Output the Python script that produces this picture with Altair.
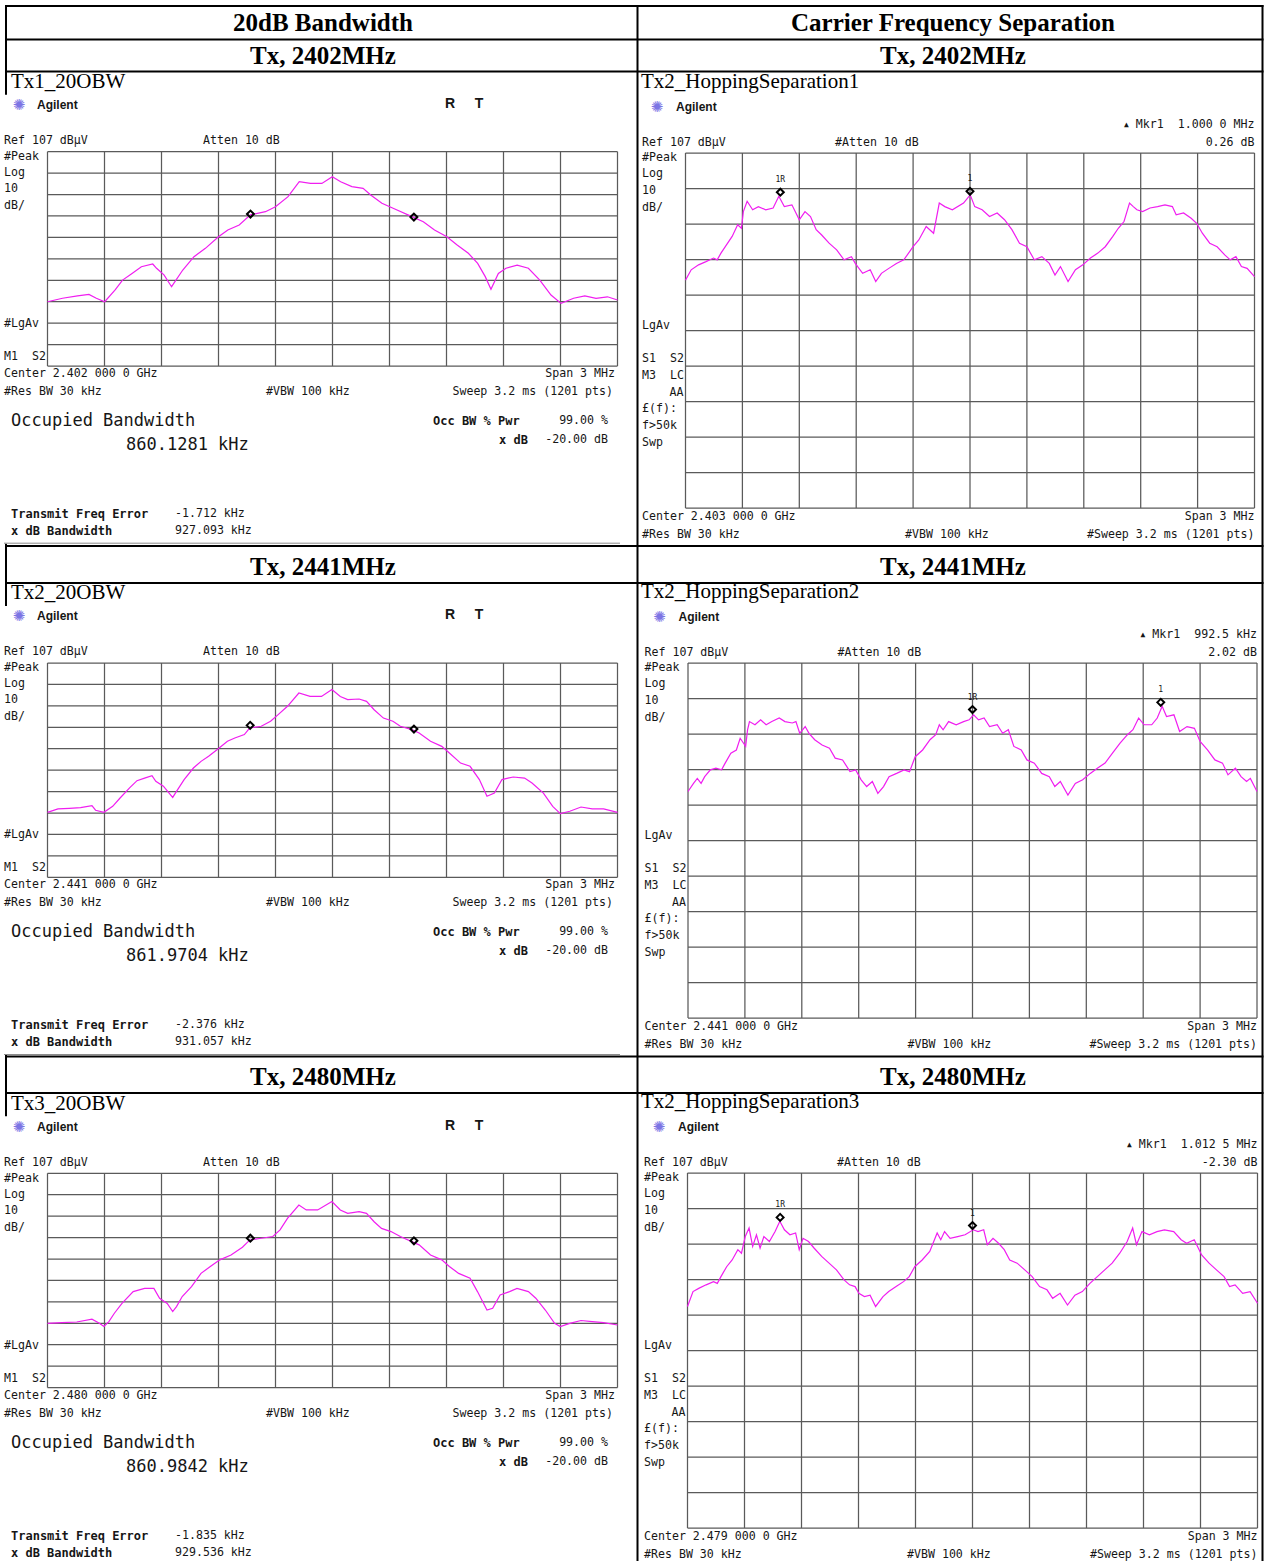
import altair as alt
import pandas as pd

# ---------------------------------------------------------------------------
# Spectrum traces: frequency offset from the centre frequency (MHz) and level (dBuV)
# ---------------------------------------------------------------------------

# 20 dB bandwidth, Tx 2402 MHz
OBW1_FREQ = [-1.5, -1.421, -1.342, -1.282, -1.243, -1.199, -1.144, -1.105, -1.055, -1.006,
             -0.946, -0.926, -0.887, -0.847, -0.788, -0.729, -0.669, -0.600, -0.551, -0.491,
             -0.432, -0.353, -0.300, -0.234, -0.175, -0.116, -0.056, -0.001, 0.043, 0.102,
             0.161, 0.201, 0.260, 0.319, 0.418, 0.478, 0.537, 0.602, 0.656, 0.715,
             0.764, 0.804, 0.834, 0.873, 0.913, 0.972, 1.031, 1.091, 1.150, 1.203,
             1.269, 1.328, 1.387, 1.447, 1.5]
OBW1_LEVEL = [37.0, 38.6, 39.7, 40.4, 38.6, 37.0, 42.5, 47.1, 50.2, 53.3,
              54.6, 52.6, 49.5, 44.0, 51.8, 58.0, 61.9, 67.3, 70.5, 72.8,
              77.5, 79.0, 81.3, 86.0, 93.0, 92.2, 92.2, 95.3, 93.0, 90.7,
              89.9, 86.8, 82.9, 80.6, 76.7, 74.3, 70.5, 67.3, 63.5, 59.6,
              54.9, 48.7, 42.8, 50.2, 52.6, 54.1, 52.6, 47.1, 40.1, 36.2,
              38.6, 39.7, 38.6, 39.3, 37.8]

# 20 dB bandwidth, Tx 2441 MHz
OBW2_FREQ = [-1.5, -1.445, -1.385, -1.326, -1.266, -1.247, -1.203, -1.157, -1.118, -1.068,
             -1.029, -0.989, -0.950, -0.930, -0.890, -0.860, -0.841, -0.821, -0.781, -0.732,
             -0.692, -0.652, -0.603, -0.553, -0.514, -0.464, -0.435, -0.375, -0.326, -0.286,
             -0.237, -0.177, -0.118, -0.058, -0.003, 0.041, 0.080, 0.140, 0.179, 0.219,
             0.268, 0.318, 0.357, 0.417, 0.456, 0.516, 0.575, 0.615, 0.674, 0.724,
             0.773, 0.813, 0.852, 0.892, 0.951, 1.011, 1.050, 1.110, 1.159, 1.199,
             1.249, 1.308, 1.367, 1.427, 1.5]
OBW2_LEVEL = [37.3, 38.9, 39.2, 39.5, 40.4, 38.3, 37.3, 40.1, 44.0, 48.7,
              52.1, 53.3, 54.4, 51.8, 49.5, 46.3, 44.3, 47.1, 52.6, 58.0,
              61.1, 63.5, 66.9, 70.5, 72.0, 73.6, 76.7, 77.5, 79.8, 82.9,
              86.8, 93.0, 91.4, 91.4, 94.6, 91.4, 89.9, 90.2, 89.1, 85.2,
              81.3, 79.8, 77.5, 75.9, 74.3, 70.5, 68.1, 65.0, 60.3, 58.8,
              52.6, 44.8, 46.3, 52.6, 53.8, 53.3, 51.0, 46.3, 40.1, 36.7,
              37.8, 39.8, 38.9, 38.9, 37.3]

# 20 dB bandwidth, Tx 2480 MHz
OBW3_FREQ = [-1.5, -1.425, -1.346, -1.266, -1.227, -1.203, -1.177, -1.148, -1.108, -1.049,
             -0.989, -0.940, -0.910, -0.870, -0.841, -0.821, -0.791, -0.742, -0.692, -0.643,
             -0.593, -0.534, -0.474, -0.435, -0.375, -0.314, -0.276, -0.237, -0.177, -0.138,
             -0.078, -0.003, 0.041, 0.080, 0.140, 0.179, 0.219, 0.258, 0.308, 0.357,
             0.417, 0.456, 0.516, 0.575, 0.615, 0.664, 0.724, 0.763, 0.813, 0.843,
             0.882, 0.932, 0.971, 1.031, 1.070, 1.120, 1.169, 1.199, 1.249, 1.308,
             1.367, 1.427, 1.5]
OBW3_LEVEL = [37.0, 37.3, 37.6, 38.9, 37.0, 35.5, 37.8, 41.7, 46.3, 51.8,
              53.3, 53.3, 48.7, 46.3, 42.5, 44.8, 49.5, 54.1, 60.3, 63.5,
              66.6, 68.9, 72.5, 75.9, 76.7, 77.5, 80.6, 86.0, 92.2, 89.9,
              89.9, 93.8, 89.9, 88.3, 89.1, 88.3, 84.4, 81.3, 79.8, 77.5,
              75.1, 73.6, 68.9, 66.6, 63.5, 60.3, 58.0, 51.8, 43.2, 44.0,
              50.2, 51.8, 53.3, 51.8, 48.7, 43.2, 37.0, 35.5, 37.0, 38.3,
              37.8, 37.3, 36.2]

# Carrier frequency separation, centre 2403 MHz
SEP1_FREQ = [-1.5, -1.470, -1.431, -1.392, -1.352, -1.333, -1.313, -1.284, -1.254, -1.225,
             -1.205, -1.195, -1.175, -1.146, -1.116, -1.077, -1.038, -1.008, -0.979, -0.939,
             -0.900, -0.870, -0.841, -0.811, -0.782, -0.743, -0.703, -0.664, -0.625, -0.605,
             -0.566, -0.526, -0.497, -0.467, -0.428, -0.388, -0.349, -0.300, -0.270, -0.231,
             -0.192, -0.162, -0.133, -0.093, -0.034, 0.001, 0.025, 0.064, 0.103, 0.143,
             0.182, 0.221, 0.261, 0.300, 0.339, 0.379, 0.418, 0.448, 0.477, 0.517,
             0.556, 0.595, 0.635, 0.674, 0.713, 0.753, 0.782, 0.812, 0.841, 0.861,
             0.880, 0.910, 0.949, 0.989, 1.028, 1.067, 1.087, 1.126, 1.166, 1.195,
             1.225, 1.264, 1.303, 1.343, 1.372, 1.402, 1.431, 1.461, 1.5]
SEP1_LEVEL = [71.2, 74.1, 75.5, 76.4, 77.4, 76.9, 78.8, 81.1, 83.5, 86.8,
              85.8, 90.5, 93.4, 91.0, 91.9, 91.0, 91.5, 94.8, 91.9, 92.4,
              88.2, 90.5, 89.1, 85.4, 83.9, 81.6, 79.7, 76.9, 77.8, 75.9,
              73.1, 74.1, 70.8, 73.1, 74.5, 75.9, 76.9, 80.6, 82.5, 86.3,
              84.4, 92.9, 91.9, 91.0, 92.9, 95.2, 91.9, 91.0, 89.1, 90.1,
              88.2, 85.4, 81.6, 80.6, 76.9, 77.8, 75.9, 72.6, 75.0, 70.8,
              74.1, 75.5, 77.4, 78.8, 80.6, 83.5, 85.8, 87.7, 92.9, 91.9,
              91.0, 90.5, 91.5, 91.9, 92.4, 91.9, 89.6, 90.1, 88.6, 87.2,
              84.4, 81.6, 80.6, 78.3, 76.9, 77.8, 75.0, 74.5, 72.2]

# Carrier frequency separation, centre 2441 MHz
SEP2_FREQ = [-1.5, -1.471, -1.451, -1.431, -1.412, -1.382, -1.353, -1.323, -1.304, -1.274,
             -1.245, -1.225, -1.196, -1.186, -1.176, -1.147, -1.117, -1.088, -1.058, -1.019,
             -0.989, -0.950, -0.931, -0.911, -0.882, -0.862, -0.832, -0.793, -0.754, -0.724,
             -0.685, -0.646, -0.616, -0.587, -0.558, -0.528, -0.499, -0.469, -0.440, -0.400,
             -0.361, -0.332, -0.302, -0.263, -0.224, -0.194, -0.175, -0.155, -0.126, -0.086,
             -0.047, -0.018, 0.006, 0.032, 0.061, 0.090, 0.130, 0.159, 0.189, 0.218,
             0.257, 0.287, 0.326, 0.365, 0.405, 0.434, 0.463, 0.503, 0.542, 0.581,
             0.621, 0.660, 0.699, 0.738, 0.778, 0.817, 0.846, 0.876, 0.905, 0.945,
             0.974, 1.000, 1.023, 1.062, 1.092, 1.131, 1.170, 1.200, 1.239, 1.278,
             1.318, 1.347, 1.386, 1.416, 1.445, 1.465, 1.5]
SEP2_LEVEL = [70.8, 73.1, 74.5, 73.1, 75.0, 76.9, 77.4, 76.9, 78.8, 81.6,
              82.5, 85.8, 83.5, 88.2, 90.5, 89.6, 91.0, 89.6, 90.5, 91.5,
              90.5, 90.1, 90.5, 87.2, 89.1, 87.2, 85.4, 83.9, 83.0, 80.2,
              79.7, 76.4, 76.9, 74.1, 72.2, 73.6, 70.3, 72.2, 75.0, 75.9,
              76.9, 76.4, 80.6, 82.5, 85.4, 86.8, 89.6, 88.2, 90.5, 89.6,
              90.5, 91.0, 92.4, 91.0, 91.5, 89.1, 89.6, 87.2, 88.2, 83.5,
              82.5, 79.7, 78.8, 75.9, 75.0, 72.2, 73.6, 69.8, 73.1, 74.1,
              75.9, 77.4, 78.8, 81.6, 84.4, 86.8, 88.2, 91.5, 89.6, 89.6,
              91.5, 94.8, 91.9, 92.4, 87.7, 89.1, 88.6, 84.9, 82.5, 79.7,
              78.8, 75.5, 77.4, 75.0, 73.6, 74.5, 70.8]

# Carrier frequency separation, centre 2479 MHz
SEP3_FREQ = [-1.5, -1.471, -1.441, -1.402, -1.363, -1.343, -1.324, -1.294, -1.265, -1.235,
             -1.216, -1.196, -1.176, -1.157, -1.137, -1.118, -1.098, -1.069, -1.039, -1.014,
             -0.990, -0.961, -0.931, -0.912, -0.892, -0.863, -0.833, -0.794, -0.755, -0.716,
             -0.676, -0.647, -0.618, -0.598, -0.569, -0.539, -0.510, -0.471, -0.441, -0.402,
             -0.363, -0.333, -0.304, -0.265, -0.225, -0.186, -0.167, -0.147, -0.118, -0.078,
             -0.039, 0.004, 0.029, 0.059, 0.078, 0.108, 0.137, 0.167, 0.196, 0.235,
             0.275, 0.314, 0.353, 0.392, 0.422, 0.461, 0.500, 0.539, 0.578, 0.618,
             0.657, 0.696, 0.735, 0.775, 0.814, 0.843, 0.863, 0.892, 0.931, 0.971,
             1.010, 1.059, 1.098, 1.127, 1.167, 1.206, 1.245, 1.284, 1.324, 1.353,
             1.382, 1.422, 1.461, 1.5]
SEP3_LEVEL = [69.4, 73.6, 74.5, 75.5, 76.4, 75.9, 77.8, 80.6, 82.5, 85.4,
              84.4, 89.1, 91.5, 86.3, 89.6, 85.8, 89.1, 87.7, 90.5, 93.4,
              91.0, 89.6, 90.1, 85.4, 88.6, 87.7, 85.8, 83.5, 81.6, 79.7,
              76.9, 75.5, 75.0, 73.1, 72.2, 72.6, 69.4, 72.2, 73.6, 75.0,
              76.4, 77.8, 80.6, 82.5, 84.9, 90.1, 88.2, 90.5, 88.6, 89.1,
              89.6, 91.0, 90.5, 91.0, 86.8, 88.6, 87.2, 85.4, 82.5, 81.6,
              79.7, 77.8, 75.0, 74.1, 71.7, 73.1, 69.8, 72.6, 73.6, 75.9,
              77.8, 79.7, 81.6, 84.4, 87.7, 91.5, 86.8, 90.5, 89.6, 90.5,
              91.0, 90.5, 88.2, 87.2, 88.2, 83.9, 81.6, 79.7, 77.8, 75.0,
              75.5, 73.1, 73.6, 70.3]

# Occupied-bandwidth results (kHz)
OBW_KHZ = [860.1281, 861.9704, 860.9842]
FREQ_ERROR_KHZ = [-1.712, -2.376, -1.835]
XDB_BW_KHZ = [927.093, 931.057, 929.536]
# trace level at the two OBW markers (dBuV)
OBW_MARKER_LEVEL = [(77.9, 76.5), (77.9, 76.2), (76.7, 75.5)]

# Delta markers: reference marker 1R (MHz offset, dBuV) and delta of marker 1
SEP_REF_MARKER = [(-1.0, 95.95), (0.0, 93.9), (-1.0125, 94.5)]
SEP_DELTA = [(1.0, 0.26), (0.9925, 2.02), (1.0125, -2.30)]
SEP_DELTA_TEXT = [("1.000 0 MHz", "0.26 dB"), ("992.5 kHz", "2.02 dB"), ("1.012 5 MHz", "-2.30 dB")]

OBW_CENTRE = ["2.402 000 0 GHz", "2.441 000 0 GHz", "2.480 000 0 GHz"]
SEP_CENTRE = ["2.403 000 0 GHz", "2.441 000 0 GHz", "2.479 000 0 GHz"]
OBW_TITLES = ["Tx1_20OBW", "Tx2_20OBW", "Tx3_20OBW"]
SEP_TITLES = ["Tx2_HoppingSeparation1", "Tx2_HoppingSeparation2", "Tx2_HoppingSeparation3"]
ROW_LABELS = ["Tx, 2402MHz", "Tx, 2441MHz", "Tx, 2480MHz"]
HEADERS = ["20dB Bandwidth", "Carrier Frequency Separation"]

# ---------------------------------------------------------------------------
# Styling and layout
# ---------------------------------------------------------------------------
W, H = 1264, 1561
MONO = "DejaVu Sans Mono"
SERIF = "Liberation Serif"
SANS = "Liberation Sans"
INK = "#161616"
TRACE_COLOR = "#f01ef0"
GRID_COLOR = "#5a5a5a"
LOGO_COLOR = "#7d74e4"
NB = "\u00a0\u00a0"  # double gap kept by the SVG text renderer
REF_LEVEL, DB_PER_DIV, N_DIV, SPAN = 107, 10, 10, 3.0

# graticule boxes: (left, right, top, bottom) in page pixels
OBW_BOX = [(47.5, 617.5, 151.7, 366.0), (47.5, 617.5, 663.0, 877.3), (47.5, 617.5, 1173.3, 1387.6)]
SEP_BOX = [(685.5, 1254.5, 153.0, 508.0), (688.0, 1257.0, 663.0, 1018.0), (687.5, 1257.5, 1173.0, 1528.0)]

ONE = pd.DataFrame({"k": [0]})
layers = []


def text(x, y, s, size=11.6, font=MONO, weight="normal", align="left", color=INK):
    layers.append(
        alt.Chart(ONE)
        .mark_text(text=s, font=font, fontSize=size, fontWeight=weight,
                   align=align, baseline="middle", color=color)
        .encode(x=alt.value(x), y=alt.value(y))
    )


def hline(x1, x2, y, width=2.0, color="black"):
    layers.append(
        alt.Chart(ONE).mark_rule(color=color, strokeWidth=width)
        .encode(x=alt.value(x1), x2=alt.value(x2), y=alt.value(y))
    )


def vline(x, y1, y2, width=2.0, color="black"):
    layers.append(
        alt.Chart(ONE).mark_rule(color=color, strokeWidth=width)
        .encode(x=alt.value(x), y=alt.value(y1), y2=alt.value(y2))
    )


def white_box(x1, x2, y1, y2):
    layers.append(
        alt.Chart(ONE).mark_rect(color="white")
        .encode(x=alt.value(x1), x2=alt.value(x2), y=alt.value(y1), y2=alt.value(y2))
    )


def graticule(freq, level, box, markers):
    x0, x1, y0, y1 = box
    half = SPAN / 2
    bottom = REF_LEVEL - DB_PER_DIV * N_DIV
    xs = alt.Scale(domain=[-half, half], range=[x0, x1], nice=False, zero=False)
    ys = alt.Scale(domain=[bottom, REF_LEVEL], range=[y1, y0], nice=False, zero=False)
    cols = pd.DataFrame({"f": [-half + SPAN * i / N_DIV for i in range(N_DIV + 1)]})
    rows = pd.DataFrame({"lvl": [bottom + DB_PER_DIV * i for i in range(N_DIV + 1)]})
    X = alt.X("f:Q", scale=xs, axis=None)
    Y = alt.Y("lvl:Q", scale=ys, axis=None)

    vgrid = alt.Chart(cols).mark_rule(color=GRID_COLOR, strokeWidth=1.25).encode(
        x=X, y=alt.value(y0), y2=alt.value(y1))
    hgrid = alt.Chart(rows).mark_rule(color=GRID_COLOR, strokeWidth=1.25).encode(
        y=Y, x=alt.value(x0), x2=alt.value(x1))
    trace = alt.Chart(pd.DataFrame({"f": freq, "lvl": level})).mark_line(
        color=TRACE_COLOR, strokeWidth=1.2).encode(x=X, y=Y)
    mk = alt.Chart(markers)
    diamonds = mk.mark_point(shape="diamond", filled=False, color="black",
                             strokeWidth=2, size=48, opacity=1).encode(x=X, y=Y)
    parts = [vgrid, hgrid, trace, diamonds]
    if "tag" in markers.columns:
        parts.append(mk.mark_text(font=MONO, fontSize=8, dy=-12, color=INK)
                     .encode(x=X, y=Y, text="tag:N"))
    return alt.layer(*parts)


# ---------------------------------------------------------------------------
# Table frame and headings
# ---------------------------------------------------------------------------
COL_CENTRES = [323, 953]
for y in [6, 39.5, 71.5, 546, 583, 1056.5, 1093]:
    hline(5, 1263.5, y)
for x in [6, 637.5, 1262.5]:
    vline(x, 5, H)
for cx, head in zip(COL_CENTRES, HEADERS):
    text(cx, 22.5, head, size=25, font=SERIF, weight="bold", align="center", color="black")
for y, label in zip([56, 567, 1077], ROW_LABELS):
    for cx in COL_CENTRES:
        text(cx, y, label, size=25, font=SERIF, weight="bold", align="center", color="black")

# ---------------------------------------------------------------------------
# Occupied bandwidth panels (left column)
# ---------------------------------------------------------------------------
OBW_TRACES = [(OBW1_FREQ, OBW1_LEVEL), (OBW2_FREQ, OBW2_LEVEL), (OBW3_FREQ, OBW3_LEVEL)]
for i, (freq, level) in enumerate(OBW_TRACES):
    box = OBW_BOX[i]
    g = box[2]
    white_box(2, 621, g - 57, min(g + 392, H))

    obw, ferr, xdb = OBW_KHZ[i], FREQ_ERROR_KHZ[i], XDB_BW_KHZ[i]
    lo = (ferr - obw / 2) / 1000
    hi = (ferr + obw / 2) / 1000
    marks = pd.DataFrame({"f": [lo, hi], "lvl": list(OBW_MARKER_LEVEL[i])})
    layers.append(graticule(freq, level, box, marks))

    text(11, g - 69.7, OBW_TITLES[i], size=21, font=SERIF, color="black")
    text(19, g - 46.7, "✺", size=15, font="DejaVu Sans", align="center", color=LOGO_COLOR)
    text(37, g - 46.7, "Agilent", size=12, font=SANS, weight="bold")
    text(450, g - 47.7, "R", size=14, font=SANS, weight="bold", align="center")
    text(479, g - 47.7, "T", size=14, font=SANS, weight="bold", align="center")
    text(4, g - 10.7, "Ref 107 dBμV")
    text(203, g - 10.7, "Atten 10 dB")
    for dy, s in [(5.3, "#Peak"), (21.3, "Log"), (37.3, "10"), (54.3, "dB/"),
                  (172.3, "#LgAv"), (205.3, "M1" + NB + "S2")]:
        text(4, g + dy, s)
    text(4, g + 222.3, "Center " + OBW_CENTRE[i])
    text(615, g + 222.3, "Span 3 MHz", align="right")
    text(4, g + 240.3, "#Res BW 30 kHz")
    text(266, g + 240.3, "#VBW 100 kHz")
    text(613, g + 240.3, "Sweep 3.2 ms (1201 pts)", align="right")
    text(11, g + 269.3, "Occupied Bandwidth", size=17)
    text(126, g + 293.3, f"{obw:.4f} kHz", size=17)
    text(433, g + 269.3, "Occ BW % Pwr", size=12, weight="bold")
    text(608, g + 269.3, "99.00 %", align="right")
    text(528, g + 288.3, "x dB", size=12, weight="bold", align="right")
    text(608, g + 288.3, "-20.00 dB", align="right")
    text(11, g + 362.3, "Transmit Freq Error", size=12, weight="bold")
    text(175, g + 362.3, f"{ferr:.3f} kHz")
    text(11, g + 379.3, "x dB Bandwidth", size=12, weight="bold")
    text(175, g + 379.3, f"{xdb:.3f} kHz")
    hline(4, 620, g + 391.5, width=1, color="#8c8c8c")

# ---------------------------------------------------------------------------
# Carrier frequency separation panels (right column)
# ---------------------------------------------------------------------------
SEP_TRACES = [(SEP1_FREQ, SEP1_LEVEL), (SEP2_FREQ, SEP2_LEVEL), (SEP3_FREQ, SEP3_LEVEL)]
for i, (freq, level) in enumerate(SEP_TRACES):
    box = SEP_BOX[i]
    (rf, rl), (df, dl) = SEP_REF_MARKER[i], SEP_DELTA[i]
    marks = pd.DataFrame({"f": [rf, rf + df], "lvl": [rl, rl + dl], "tag": ["1R", "1"]})
    layers.append(graticule(freq, level, box, marks))

    g = box[2]
    dx = box[0] - SEP_BOX[0][0]
    right = box[1]
    text(641, g - 71, SEP_TITLES[i], size=21, font=SERIF, color="black")
    text(657 + dx, g - 46, "✺", size=15, font="DejaVu Sans", align="center", color=LOGO_COLOR)
    text(676 + dx, g - 46, "Agilent", size=12, font=SANS, weight="bold")
    mkr = "Mkr1" + NB + SEP_DELTA_TEXT[i][0]
    text(right, g - 28, mkr, align="right")
    text(right - 7.0 * len(mkr) - 9, g - 28, "▲", size=8, align="center")
    text(right, g - 10, SEP_DELTA_TEXT[i][1], align="right")
    text(642 + dx, g - 10, "Ref 107 dBμV")
    text(835 + dx, g - 10, "#Atten 10 dB")
    for dy, s in [(5, "#Peak"), (21, "Log"), (38, "10"), (55, "dB/"), (173, "LgAv"),
                  (206, "S1" + NB + "S2"), (223, "M3" + NB + "LC"), (256, "£(f):"),
                  (273, "f>50k"), (290, "Swp")]:
        text(642 + dx, g + dy, s)
    text(box[0] - 2, g + 240, "AA", align="right")
    text(642 + dx, g + 364, "Center " + SEP_CENTRE[i])
    text(right, g + 364, "Span 3 MHz", align="right")
    text(642 + dx, g + 382, "#Res BW 30 kHz")
    text(905 + dx, g + 382, "#VBW 100 kHz")
    text(right, g + 382, "#Sweep 3.2 ms (1201 pts)", align="right")

chart = (
    alt.layer(*layers)
    .resolve_scale(x="independent", y="independent")
    .properties(width=W, height=H, padding=0,
                autosize=alt.AutoSizeParams(type="none"), background="white")
    .configure_view(strokeWidth=0)
)

chart.save("out.html", embed_options={"renderer": "svg", "actions": False})
